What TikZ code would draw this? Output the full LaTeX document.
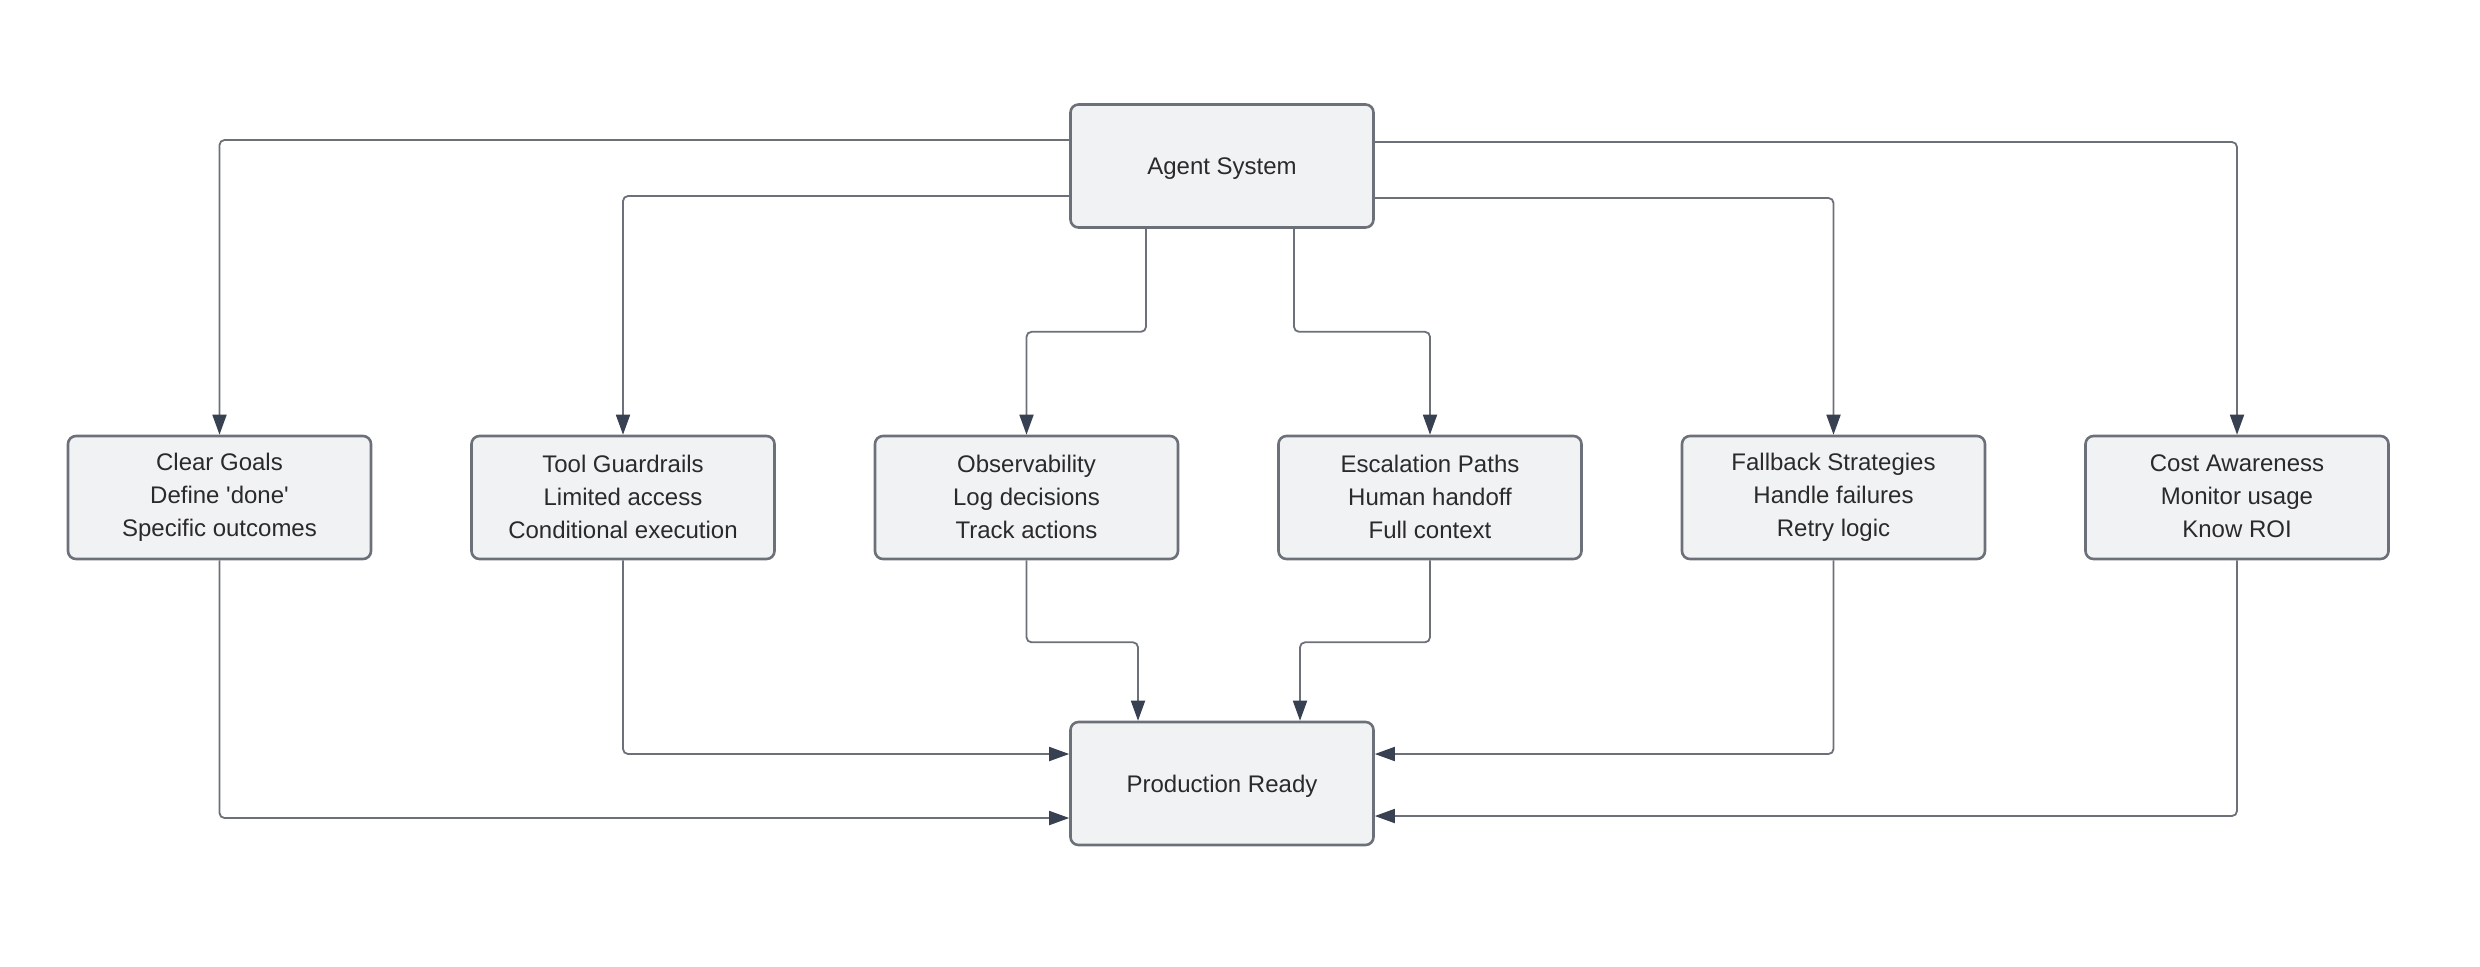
\documentclass[tikz,border=0pt]{standalone}
\usepackage{fontspec}
\setmainfont{Liberation Sans}[Ligatures=TeXOff]
\usetikzlibrary{arrows.meta,calc}
\definecolor{boxfill}{HTML}{F1F2F4}
\definecolor{boxline}{HTML}{6B7079}
\definecolor{linec}{HTML}{6B7079}
\definecolor{tipc}{HTML}{374151}
\definecolor{txtc}{HTML}{2A2A2A}
\newcommand{\boxstrut}{\rule[-1pt]{0pt}{12pt}}
\tikzset{
  box/.style={draw=boxline, line width=1.3pt, fill=boxfill, rounded corners=4pt,
    minimum width=151.5pt, minimum height=61.5pt, inner sep=0pt, align=center,
    text=txtc, font=\fontsize{12}{16.5}\selectfont,
    execute at begin node=\boxstrut, execute at end node=\boxstrut},
  conn/.style={draw=linec, line width=0.9pt, rounded corners=2.5pt,
    -{Triangle[length=10pt,width=7pt,color=tipc,fill=tipc]}},
}
\begin{document}
\begin{tikzpicture}[x=0.5pt,y=-0.5pt]
\useasboundingbox (0,0) rectangle (2480,966);
\node[box] (A) at (1222,166) {Agent System};
\node[box] (P) at (1222,783.5) {Production Ready};
\node[box] (b1) at (219.5,497.5) {Clear Goals\\Define 'done'\\Specific outcomes};
\node[box] (b2) at (623,497.5) {Tool Guardrails\\Limited access\\Conditional execution};
\node[box] (b3) at (1026.5,497.5) {Observability\\Log decisions\\Track actions};
\node[box] (b4) at (1430,497.5) {Escalation Paths\\Human handoff\\Full context};
\node[box] (b5) at (1833.5,497.5) {Fallback Strategies\\Handle failures\\Retry logic};
\node[box] (b6) at (2237,497.5) {Cost Awareness\\Monitor usage\\Know ROI};
% top connectors
\draw[conn] ([yshift=13pt]A.west) -| (b1.north);
\draw[conn] ([yshift=-15pt]A.west) -| (b2.north);
\draw[conn] ([xshift=-38pt]A.south) -- ++(0,103) -| (b3.north);
\draw[conn] ([xshift=36pt]A.south) -- ++(0,103) -| (b4.north);
\draw[conn] ([yshift=-16pt]A.east) -| (b5.north);
\draw[conn] ([yshift=12pt]A.east) -| (b6.north);
% bottom connectors
\draw[conn] (b1.south) |- ([yshift=-17.25pt]P.west);
\draw[conn] (b2.south) |- ([yshift=14.75pt]P.west);
\draw[conn] (b3.south) -- ++(0,82) -| ([xshift=-42pt]P.north);
\draw[conn] (b4.south) -- ++(0,82) -| ([xshift=39pt]P.north);
\draw[conn] (b5.south) |- ([yshift=14.75pt]P.east);
\draw[conn] (b6.south) |- ([yshift=-16.25pt]P.east);
\end{tikzpicture}
\end{document}
